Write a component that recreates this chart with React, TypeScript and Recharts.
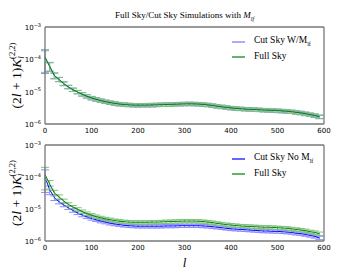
import React from "react";
import { LineChart, Line, XAxis, YAxis, ErrorBar, Legend, Label } from "recharts";

// multipole bins (bin starts)
const ells = [
  0, 10, 20, 30, 40, 50, 60, 70, 80, 90,
  100, 110, 120, 130, 140, 150, 160, 170, 180, 190,
  200, 210, 220, 230, 240, 250, 260, 270, 280, 290,
  300, 310, 320, 330, 340, 350, 360, 370, 380, 390,
  400, 410, 420, 430, 440, 450, 460, 470, 480, 490,
  500, 510, 520, 530, 540, 550, 560, 570, 580, 590,
];

const fullSky = [
  1.2e-4, 6.0e-5, 3.2e-5, 2.4e-5, 1.8e-5, 1.4e-5, 1.15e-5, 9.8e-6, 8.3e-6, 7.2e-6,
  6.4e-6, 5.8e-6, 5.3e-6, 4.9e-6, 4.6e-6, 4.35e-6, 4.15e-6, 4.0e-6, 3.9e-6, 3.85e-6,
  3.85e-6, 3.85e-6, 3.85e-6, 3.9e-6, 3.9e-6, 3.95e-6, 4.0e-6, 4.05e-6, 4.1e-6, 4.15e-6,
  4.2e-6, 4.2e-6, 4.2e-6, 4.15e-6, 4.05e-6, 3.9e-6, 3.75e-6, 3.55e-6, 3.4e-6, 3.25e-6,
  3.15e-6, 3.05e-6, 2.95e-6, 2.9e-6, 2.85e-6, 2.8e-6, 2.75e-6, 2.7e-6, 2.7e-6, 2.65e-6,
  2.6e-6, 2.55e-6, 2.5e-6, 2.4e-6, 2.3e-6, 2.2e-6, 2.1e-6, 1.95e-6, 1.85e-6, 1.7e-6,
];

const cutSkyWithMask = [
  1.1e-4, 6.2e-5, 3.1e-5, 2.4e-5, 1.75e-5, 1.4e-5, 1.15e-5, 9.7e-6, 8.3e-6, 7.2e-6,
  6.3e-6, 5.8e-6, 5.3e-6, 4.9e-6, 4.55e-6, 4.3e-6, 4.1e-6, 4.0e-6, 3.9e-6, 3.85e-6,
  3.8e-6, 3.85e-6, 3.85e-6, 3.85e-6, 3.9e-6, 3.95e-6, 4.0e-6, 4.0e-6, 4.1e-6, 4.15e-6,
  4.15e-6, 4.2e-6, 4.15e-6, 4.1e-6, 4.0e-6, 3.9e-6, 3.7e-6, 3.55e-6, 3.4e-6, 3.25e-6,
  3.1e-6, 3.0e-6, 2.95e-6, 2.9e-6, 2.85e-6, 2.8e-6, 2.75e-6, 2.7e-6, 2.65e-6, 2.6e-6,
  2.55e-6, 2.5e-6, 2.45e-6, 2.4e-6, 2.3e-6, 2.2e-6, 2.05e-6, 1.95e-6, 1.8e-6, 1.65e-6,
];

const cutSkyNoMask = [
  1.0e-4, 4.0e-5, 2.3e-5, 1.7e-5, 1.35e-5, 1.1e-5, 9.0e-6, 7.6e-6, 6.5e-6, 5.7e-6,
  5.1e-6, 4.6e-6, 4.2e-6, 3.9e-6, 3.6e-6, 3.4e-6, 3.25e-6, 3.1e-6, 3.0e-6, 2.95e-6,
  2.9e-6, 2.9e-6, 2.9e-6, 2.9e-6, 2.9e-6, 2.9e-6, 2.95e-6, 2.95e-6, 2.95e-6, 3.0e-6,
  3.0e-6, 3.0e-6, 3.0e-6, 3.0e-6, 2.95e-6, 2.9e-6, 2.8e-6, 2.7e-6, 2.6e-6, 2.5e-6,
  2.4e-6, 2.35e-6, 2.3e-6, 2.25e-6, 2.2e-6, 2.15e-6, 2.1e-6, 2.05e-6, 2.05e-6, 2.0e-6,
  2.0e-6, 1.95e-6, 1.9e-6, 1.85e-6, 1.75e-6, 1.7e-6, 1.6e-6, 1.5e-6, 1.4e-6, 1.25e-6,
];

// relative half-width of the error bars
const errFrac = [
  0.67, 0.3, 0.2, 0.15, 0.13, 0.12, 0.12, 0.12, 0.12, 0.12,
  0.12, 0.12, 0.12, 0.12, 0.12, 0.12, 0.12, 0.12, 0.12, 0.12,
  0.12, 0.12, 0.12, 0.12, 0.12, 0.12, 0.12, 0.12, 0.12, 0.12,
  0.12, 0.12, 0.12, 0.12, 0.12, 0.12, 0.12, 0.12, 0.12, 0.12,
  0.12, 0.12, 0.12, 0.12, 0.12, 0.12, 0.12, 0.12, 0.12, 0.12,
  0.12, 0.12, 0.12, 0.12, 0.12, 0.12, 0.12, 0.12, 0.12, 0.12,
];

const xTicks = [0, 100, 200, 300, 400, 500, 600];
const yTicks = [1e-6, 1e-5, 1e-4, 1e-3];
const yMinorTicks = [
  2e-6, 3e-6, 4e-6, 5e-6, 6e-6, 7e-6, 8e-6, 9e-6,
  2e-5, 3e-5, 4e-5, 5e-5, 6e-5, 7e-5, 8e-5, 9e-5,
  2e-4, 3e-4, 4e-4, 5e-4, 6e-4, 7e-4, 8e-4, 9e-4,
];

const BLUE = "#0000ff";
const GREEN = "#008000";
const BLUE_ERR = "#8c8cff";
const GREEN_ERR = "#80c080";
const FRAME = "#777";
const SERIF = "'Liberation Serif', serif";
const SANS = "'DejaVu Sans', sans-serif";

const makeRows = (cut: number[]) =>
  ells.map((l, i) => ({
    l,
    cut: cut[i],
    full: fullSky[i],
    cutErr: [cut[i] * errFrac[i], cut[i] * errFrac[i]],
    fullErr: [fullSky[i] * errFrac[i], fullSky[i] * errFrac[i]],
  }));

const topRows = makeRows(cutSkyWithMask);
const bottomRows = makeRows(cutSkyNoMask);

const LogTick = (props: any) => {
  const { x, y, payload } = props;
  const exp = Math.round(Math.log10(payload.value));
  return (
    <text x={x} y={y} dy={3} textAnchor="end" fontFamily={SANS} fontSize={7} fill="#000">
      10
      <tspan dy={-3.5} fontSize={5}>
        {"\u2212" + Math.abs(exp)}
      </tspan>
    </text>
  );
};

const YTitle = (props: any) => {
  const vb = props.viewBox || { x: 20, y: 27, width: 25, height: 97 };
  const cx = vb.x + 1;
  const cy = vb.y + vb.height / 2;
  return (
    <text
      x={cx}
      y={cy}
      transform={`rotate(-90 ${cx} ${cy})`}
      textAnchor="middle"
      fontFamily={SERIF}
      fontSize={13.5}
      fill="#000"
    >
      (2<tspan fontStyle="italic">l</tspan> + 1)<tspan fontStyle="italic">K</tspan>
      <tspan fontSize={8.5} fontStyle="italic" dy={3}>l</tspan>
      <tspan fontSize={8.5} dx={-2.5} dy={-9.5}>(2,2)</tspan>
    </text>
  );
};

const legendLabels: Record<string, React.ReactNode> = {
  cutW: (
    <>
      Cut Sky W/M<sub style={{ fontSize: 6 }}>lf</sub>
    </>
  ),
  cutNo: (
    <>
      Cut Sky No M<sub style={{ fontSize: 6 }}>lf</sub>
    </>
  ),
  full: <>Full Sky</>,
};

const LegendBox = (props: any) => (
  <div style={{ fontFamily: SERIF, fontSize: 9.5, color: "#000", lineHeight: "12.5px" }}>
    {(props.payload || []).map((p: any) => (
      <div key={p.value} style={{ display: "flex", alignItems: "center", whiteSpace: "nowrap" }}>
        <svg width={22} height={6}>
          <line x1={0} x2={13} y1={3} y2={3} stroke={p.color} strokeOpacity={p.payload?.strokeOpacity ?? 1} strokeWidth={1.2} />
        </svg>
        <span>{legendLabels[p.value]}</span>
      </div>
    ))}
  </div>
);

interface PanelProps {
  rows: ReturnType<typeof makeRows>;
  cutName: string;
  cutOpacity: number;
  top: number;
  margin: { top: number; right: number; bottom: number; left: number };
  xAxisHeight: number;
  showXTitle: boolean;
  legendTop: number;
}

const Panel = ({ rows, cutName, cutOpacity, top, margin, xAxisHeight, showXTitle, legendTop }: PanelProps) => (
  <div style={{ position: "absolute", left: 0, top }}>
    <LineChart width={360} height={140} data={rows} margin={margin}>
      <XAxis
        xAxisId="x"
        dataKey="l"
        type="number"
        domain={[0, 600]}
        ticks={xTicks}
        interval={0}
        allowDataOverflow
        tickLine={false}
        tickSize={0}
        tickMargin={4}
        height={xAxisHeight}
        axisLine={{ stroke: FRAME, strokeWidth: 1.3 }}
        tick={{ fontSize: 7, fill: "#000", fontFamily: SANS }}
      >
        {showXTitle && (
          <Label
            value="l"
            position="insideBottom"
            offset={2}
            style={{ fontFamily: SERIF, fontStyle: "italic", fontSize: 13, fill: "#000" }}
          />
        )}
      </XAxis>
      <XAxis xAxisId="xb" dataKey="l" type="number" domain={[0, 600]} ticks={xTicks} interval={0} allowDataOverflow mirror tick={false} tickSize={3} axisLine={false} tickLine={{ stroke: "#000" }} />
      <XAxis xAxisId="xt" dataKey="l" orientation="top" type="number" domain={[0, 600]} ticks={xTicks} interval={0} allowDataOverflow mirror tick={false} tickSize={3} axisLine={{ stroke: FRAME, strokeWidth: 1.3 }} tickLine={{ stroke: "#000" }} />
      <YAxis
        yAxisId="y"
        type="number"
        scale="log"
        domain={[1e-6, 1e-3]}
        ticks={yTicks}
        interval={0}
        allowDataOverflow
        width={25}
        tickLine={false}
        tickSize={0}
        tickMargin={4}
        axisLine={{ stroke: FRAME, strokeWidth: 1.3 }}
        tick={<LogTick />}
      >
        <Label content={<YTitle />} />
      </YAxis>
      <YAxis yAxisId="yl" type="number" scale="log" domain={[1e-6, 1e-3]} ticks={yTicks} interval={0} allowDataOverflow mirror tick={false} tickSize={3} axisLine={false} tickLine={{ stroke: "#000" }} />
      <YAxis yAxisId="ylm" type="number" scale="log" domain={[1e-6, 1e-3]} ticks={yMinorTicks} interval={0} allowDataOverflow mirror tick={false} tickSize={1.5} axisLine={false} tickLine={{ stroke: "#000" }} />
      <YAxis yAxisId="yr" orientation="right" type="number" scale="log" domain={[1e-6, 1e-3]} ticks={yTicks} interval={0} allowDataOverflow mirror tick={false} tickSize={3} axisLine={{ stroke: FRAME, strokeWidth: 1.3 }} tickLine={{ stroke: "#000" }} />
      <YAxis yAxisId="yrm" orientation="right" type="number" scale="log" domain={[1e-6, 1e-3]} ticks={yMinorTicks} interval={0} allowDataOverflow mirror tick={false} tickSize={1.5} axisLine={false} tickLine={{ stroke: "#000" }} />
      <Legend
        layout="vertical"
        align="center"
        verticalAlign="middle"
        content={<LegendBox />}
        wrapperStyle={{ left: 232, top: legendTop, width: 110 }}
      />
      <Line
        xAxisId="x"
        yAxisId="y"
        name={cutName}
        dataKey="cut"
        stroke={BLUE}
        strokeOpacity={cutOpacity}
        strokeWidth={1}
        dot={false}
        isAnimationActive={false}
      >
        <ErrorBar dataKey="cutErr" width={4} stroke={BLUE_ERR} strokeWidth={1} isAnimationActive={false} />
      </Line>
      <Line
        xAxisId="x"
        yAxisId="y"
        name="full"
        dataKey="full"
        stroke={GREEN}
        strokeWidth={1}
        dot={false}
        isAnimationActive={false}
      >
        <ErrorBar dataKey="fullErr" width={4} stroke={GREEN_ERR} strokeWidth={1} isAnimationActive={false} />
      </Line>
    </LineChart>
  </div>
);

export default function App() {
  return (
    <div style={{ position: "absolute", left: 0, top: 0, width: 360, height: 270, background: "#fff", overflow: "hidden" }}>
      <div
        style={{
          position: "absolute",
          left: 45,
          width: 279,
          top: 10,
          textAlign: "center",
          fontFamily: SERIF,
          fontSize: 9,
          color: "#000",
          whiteSpace: "nowrap",
        }}
      >
        Full Sky/Cut Sky Simulations with <i>M</i>
        <sub style={{ fontSize: 6, fontStyle: "italic" }}>lf</sub>
      </div>
      <Panel
        rows={topRows}
        cutName="cutW"
        cutOpacity={0.55}
        top={0}
        margin={{ top: 27, right: 36, bottom: 2, left: 20 }}
        xAxisHeight={14}
        showXTitle={false}
        legendTop={34}
      />
      <Panel
        rows={bottomRows}
        cutName="cutNo"
        cutOpacity={1}
        top={130}
        margin={{ top: 15, right: 36, bottom: 1, left: 20 }}
        xAxisHeight={28}
        showXTitle
        legendTop={21}
      />
    </div>
  );
}
